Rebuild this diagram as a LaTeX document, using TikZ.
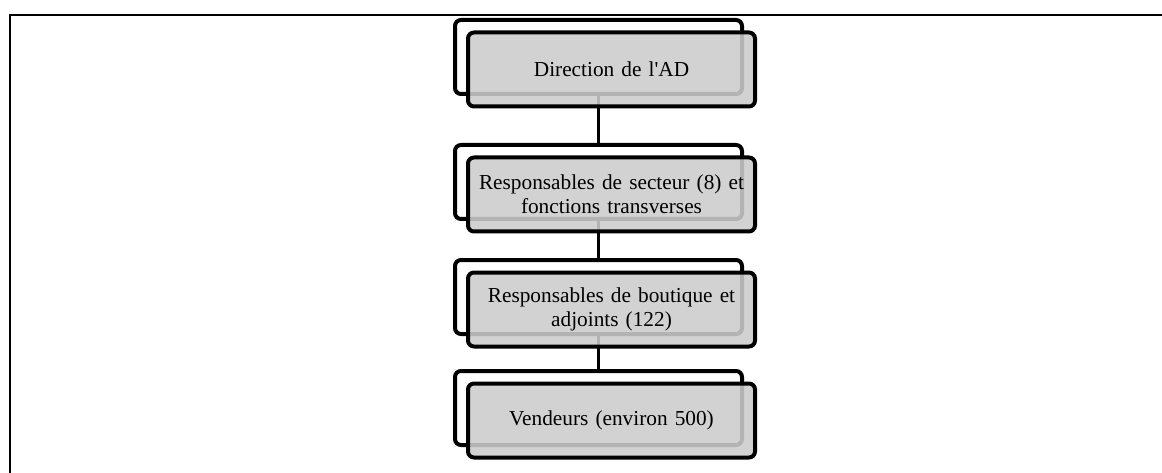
\documentclass[tikz,border=0pt]{standalone}
\usepackage{fontspec}
\setmainfont{Liberation Serif}
\begin{document}
\begin{tikzpicture}[x=1pt,y=-1pt,
  backbox/.style={draw=black,line width=4pt,rounded corners=6pt,fill=white,
    minimum width=287pt,minimum height=74pt,inner sep=0pt},
  frontbox/.style={draw=black,line width=4pt,rounded corners=6pt,
    fill=black!20,fill opacity=0.88,text opacity=1,
    minimum width=287pt,minimum height=74pt,inner sep=0pt,
    align=center,text width=272pt,
    font=\fontsize{21.3pt}{24pt}\selectfont},
  link/.style={draw=black,line width=3.5pt},
  frame/.style={draw=black,line width=2pt}]
\useasboundingbox (0,0) rectangle (1162,473);
\coordinate (ftl) at (10,15);
\coordinate (ftr) at (1162,15);
\coordinate (fbl) at (10,473);
\draw[frame] (ftr) -- (ftl) -- (fbl);
% back boxes
\node[backbox] (b1) at (598.5,57) {};
\node[backbox] (b2) at (598.5,182) {};
\node[backbox] (b3) at (598.5,297) {};
\node[backbox] (b4) at (598.5,408) {};
% connectors
\draw[link] (b1.south) -- (b2.north);
\draw[link] (b2.south) -- (b3.north);
\draw[link] (b3.south) -- (b4.north);
% front boxes
\node[frontbox] (f1) at (611.5,69.5) {Direction de l\textquotesingle AD};
\node[frontbox] (f2) at (611.5,194.5) {Responsables de secteur (8) et\\fonctions transverses};
\node[frontbox] (f3) at (611.5,309.5) {Responsables de boutique et\\adjoints (122)};
\node[frontbox] (f4) at (611.5,420.5) {Vendeurs (environ 500)};
\end{tikzpicture}
\end{document}
